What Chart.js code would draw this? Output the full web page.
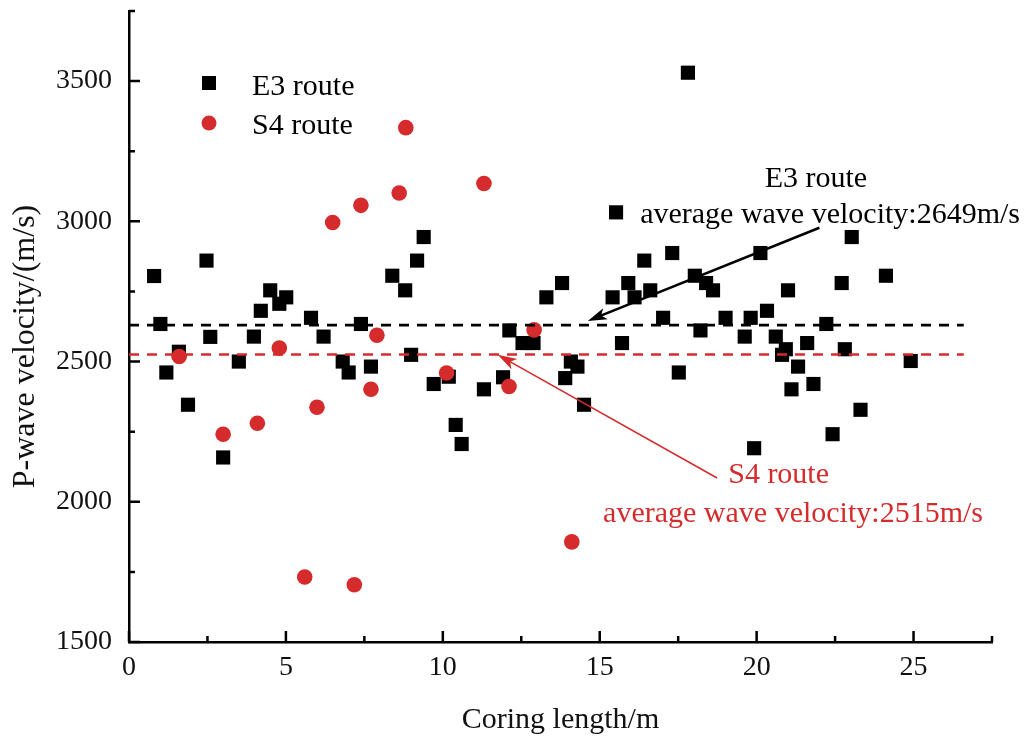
<!DOCTYPE html>
<html>
<head>
<meta charset="utf-8">
<script src="https://cdn.jsdelivr.net/npm/chart.js@4.4.1/dist/chart.umd.min.js"></script>
<style>
  html, body { margin: 0; padding: 0; background: #fff; }
  #wrap { width: 1032px; height: 742px; }
</style>
</head>
<body>
<div id="wrap"><canvas id="chart" width="1032" height="742"></canvas></div>
<script>
// data
const e3X = [0.80, 1.00, 1.19, 1.59, 1.88, 2.47, 2.59, 3.00, 3.50, 3.98, 4.20, 4.50, 4.79, 5.01, 5.80,
  6.20, 6.81, 7.00, 7.39, 7.71, 8.39, 8.80, 8.99, 9.18, 9.39, 9.71, 10.19, 10.41, 10.60, 11.31,
  11.92, 12.12, 12.54, 12.89, 13.30, 13.80, 13.90, 14.08, 14.29, 14.50, 15.41, 15.52, 15.71, 15.91, 16.11,
  16.42, 16.61, 17.02, 17.31, 17.52, 17.81, 18.03, 18.21, 18.39, 18.61, 19.01, 19.62, 19.81, 19.92, 20.12,
  20.33, 20.61, 20.81, 20.93, 21.00, 21.11, 21.32, 21.61, 21.81, 22.22, 22.42, 22.71, 22.81, 23.03, 23.31,
  24.12, 24.91];
const e3Y = [2805, 2634, 2461, 2535, 2346, 2860, 2588, 2158, 2500, 2589, 2681, 2754, 2706, 2729, 2656,
  2589, 2500, 2461, 2634, 2482, 2806, 2754, 2524, 2860, 2944, 2420, 2446, 2274, 2206, 2401,
  2444, 2611, 2566, 2566, 2729, 2780, 2441, 2500, 2482, 2346, 2729, 3032, 2566, 2780, 2729,
  2860, 2754, 2656, 2887, 2461, 3530, 2806, 2611, 2780, 2754, 2656, 2589, 2656, 2191, 2887,
  2681, 2589, 2524, 2544, 2754, 2401, 2482, 2566, 2420, 2634, 2241, 2780, 2544, 2944, 2328,
  2806, 2502];
const s4X = [1.60, 3.00, 4.09, 4.79, 5.60, 5.99, 6.49, 7.18, 7.39, 7.71, 7.90, 8.61, 8.82, 10.12, 11.31, 12.11, 12.91, 14.11];
const s4Y = [2518, 2241, 2280, 2548, 1732, 2337, 2996, 1704, 3057, 2401, 2594, 3101, 3334, 2459, 3135, 2411, 2613, 1857];

// average lines (level as drawn in the figure)
const avgLineX = [0, 26.6];
const e3AvgLevel = 2630;
const s4AvgLevel = 2525;

const xTicks = [0, 5, 10, 15, 20, 25];
const yTicks = [1500, 2000, 2500, 3000, 3500];
const xMinor = [2.5, 7.5, 12.5, 17.5, 22.5, 27.5];
const yMinor = [1750, 2250, 2750, 3250, 3750];

// annotations: [x, y] in data units
const e3Arrow = [[22.0, 2977], [14.62, 2645]];
const s4Arrow = [[18.74, 2085], [11.75, 2524]];
const e3Labels = [["E3 route", 21.89, 3122], ["average wave velocity:2649m/s", 22.34, 2995]];
const s4Labels = [["S4 route", 20.70, 2066], ["average wave velocity:2515m/s", 21.16, 1928]];

const RED = "#d62b2c";
const SERIF = "'Liberation Serif', 'Times New Roman', serif";

const pts = (xs, ys) => xs.map((x, i) => ({ x: x, y: ys[i] }));

function arrow(ctx, x0, y0, x1, y1, color, lw, headLen, headW) {
    const ang = Math.atan2(y1 - y0, x1 - x0);
    ctx.save();
    ctx.strokeStyle = color;
    ctx.fillStyle = color;
    ctx.lineWidth = lw;
    ctx.beginPath();
    ctx.moveTo(x0, y0);
    ctx.lineTo(x1 - Math.cos(ang) * headLen * 0.6, y1 - Math.sin(ang) * headLen * 0.6);
    ctx.stroke();
    ctx.translate(x1, y1);
    ctx.rotate(ang);
    ctx.beginPath();
    ctx.moveTo(0, 0);
    ctx.lineTo(-headLen, -headW);
    ctx.lineTo(-headLen * 0.75, 0);
    ctx.lineTo(-headLen, headW);
    ctx.closePath();
    ctx.fill();
    ctx.restore();
}

const decor = {
    id: "decor",
    beforeDraw(chart) {
        const c = chart.ctx;
        c.save();
        c.fillStyle = "#fff";
        c.fillRect(0, 0, chart.width, chart.height);
        c.restore();
    },
    afterDatasetsDraw(chart) {
        const c = chart.ctx;
        const xs = chart.scales.x, ys = chart.scales.y;
        const a = chart.chartArea;

        // inward ticks
        c.save();
        c.strokeStyle = "#000";
        c.lineWidth = 2.5;
        c.beginPath();
        xTicks.forEach(v => { const p = xs.getPixelForValue(v); c.moveTo(p, a.bottom); c.lineTo(p, a.bottom - 11); });
        xMinor.forEach(v => { const p = xs.getPixelForValue(v); c.moveTo(p, a.bottom); c.lineTo(p, a.bottom - 6); });
        yTicks.forEach(v => { const p = ys.getPixelForValue(v); c.moveTo(a.left, p); c.lineTo(a.left + 11, p); });
        yMinor.forEach(v => { const p = ys.getPixelForValue(v); c.moveTo(a.left, p); c.lineTo(a.left + 6, p); });
        c.stroke();
        c.restore();

        // y axis title (sits a little below the axis middle in the figure)
        c.save();
        c.font = "32px " + SERIF;
        c.fillStyle = "#111";
        c.textAlign = "center";
        c.textBaseline = "middle";
        c.translate(26, a.top + (a.bottom - a.top) / 2 + 20);
        c.rotate(-Math.PI / 2);
        c.fillText("P-wave velocity/(m/s)", 0, 0);
        c.restore();

        // arrows
        arrow(c, xs.getPixelForValue(e3Arrow[0][0]), ys.getPixelForValue(e3Arrow[0][1]),
            xs.getPixelForValue(e3Arrow[1][0]), ys.getPixelForValue(e3Arrow[1][1]), "#000", 2.5, 19, 6);
        arrow(c, xs.getPixelForValue(s4Arrow[0][0]), ys.getPixelForValue(s4Arrow[0][1]),
            xs.getPixelForValue(s4Arrow[1][0]), ys.getPixelForValue(s4Arrow[1][1]), RED, 1.6, 19, 6);

        // annotation text
        c.save();
        c.font = "30px " + SERIF;
        c.textAlign = "center";
        c.textBaseline = "alphabetic";
        c.fillStyle = "#000";
        e3Labels.forEach(l => c.fillText(l[0], xs.getPixelForValue(l[1]), ys.getPixelForValue(l[2])));
        c.fillStyle = RED;
        s4Labels.forEach(l => c.fillText(l[0], xs.getPixelForValue(l[1]), ys.getPixelForValue(l[2])));
        c.restore();

        // legend
        c.save();
        const lx = a.left + 80, ly1 = a.top + 72, ly2 = a.top + 112;
        c.fillStyle = "#000";
        c.fillRect(lx - 7, ly1 - 7, 14, 14);
        c.fillStyle = RED;
        c.beginPath();
        c.arc(lx, ly2, 7.5, 0, Math.PI * 2);
        c.fill();
        c.font = "30px " + SERIF;
        c.fillStyle = "#000";
        c.textAlign = "left";
        c.fillText("E3 route", lx + 43, ly1 + 12);
        c.fillText("S4 route", lx + 43, ly2 + 11);
        c.restore();
    }
};

new Chart(document.getElementById("chart"), {
    type: "scatter",
    data: {
        datasets: [
            {
                label: "E3 average",
                type: "line",
                data: avgLineX.map(x => ({ x: x, y: e3AvgLevel })),
                borderColor: "#000",
                borderWidth: 2.6,
                borderDash: [10, 8],
                pointRadius: 0,
                order: 0
            },
            {
                label: "S4 average",
                type: "line",
                data: avgLineX.map(x => ({ x: x, y: s4AvgLevel })),
                borderColor: RED,
                borderWidth: 2.6,
                borderDash: [10, 8],
                pointRadius: 0,
                order: 0
            },
            {
                label: "S4 route",
                data: pts(s4X, s4Y),
                pointStyle: "circle",
                pointRadius: 7.8,
                backgroundColor: RED,
                borderWidth: 0,
                order: 1
            },
            {
                label: "E3 route",
                data: pts(e3X, e3Y),
                pointStyle: "rect",
                pointRadius: 10,
                backgroundColor: "#000",
                borderWidth: 0,
                order: 2
            }
        ]
    },
    options: {
        responsive: false,
        animation: false,
        devicePixelRatio: 1,
        layout: { padding: { left: 0, top: 11, right: 40, bottom: 0 } },
        plugins: { legend: { display: false }, tooltip: { enabled: false } },
        scales: {
            x: {
                type: "linear",
                min: 0,
                max: 27.5,
                afterBuildTicks: s => { s.ticks = xTicks.map(v => ({ value: v })); },
                afterFit: s => { s.height = 100; s.paddingLeft = 0; s.paddingRight = 0; },
                grid: { display: false, drawTicks: false },
                border: { display: true, color: "#000", width: 2.5 },
                ticks: { color: "#111", padding: 9, font: { family: SERIF, size: 28 }, callback: v => String(v) },
                title: {
                    display: true, text: "Coring length/m", color: "#111",
                    font: { family: SERIF, size: 30 }, padding: { top: 0, bottom: 4 }
                }
            },
            y: {
                type: "linear",
                min: 1500,
                max: 3750,
                afterBuildTicks: s => { s.ticks = yTicks.map(v => ({ value: v })); },
                afterFit: s => { s.width = 129; s.paddingTop = 0; s.paddingBottom = 0; },
                grid: { display: false, drawTicks: false },
                border: { display: true, color: "#000", width: 2.5 },
                ticks: { color: "#111", padding: 17, font: { family: SERIF, size: 28 }, callback: v => String(v) },
                title: { display: false }
            }
        }
    },
    plugins: [decor]
});
</script>
</body>
</html>
